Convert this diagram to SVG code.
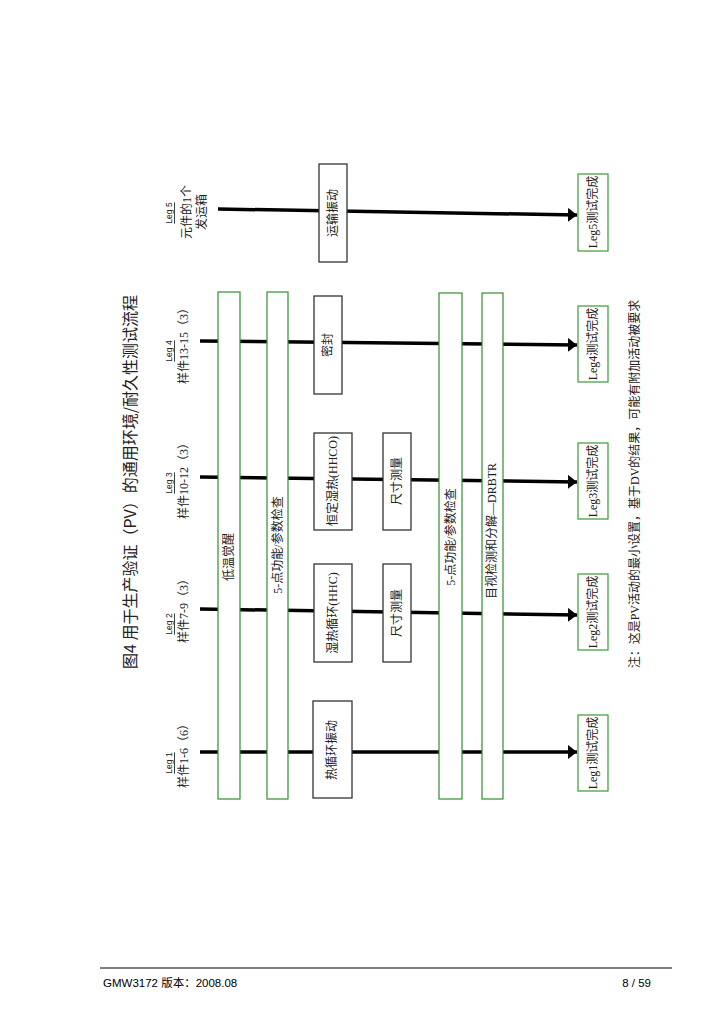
<svg xmlns="http://www.w3.org/2000/svg" width="724" height="1024" viewBox="0 0 724 1024">
<style>
.t{font-family:"Liberation Serif","Noto Sans CJK SC",serif;font-size:12px;fill:#222;text-anchor:middle;dominant-baseline:central}
.title{font-family:"Noto Sans CJK SC",serif;font-size:16px;fill:#222;text-anchor:middle;dominant-baseline:central}
.leg{font-family:"Liberation Sans",sans-serif;font-size:8.5px;fill:#222;text-anchor:middle;dominant-baseline:central;text-decoration:underline}
.bar{fill:#fff;stroke:#2f8f2f;stroke-width:1.2}
.box{fill:#fff;stroke:#333;stroke-width:1.3}
.end{fill:#fff;stroke:#3a9a3a;stroke-width:1.2}
.flow{stroke:#000;stroke-width:3.5;fill:none}
.foot{font-family:"Liberation Sans","Noto Sans CJK SC",sans-serif;font-size:11.5px;fill:#000}
</style>
<defs>
<marker id="arr" markerUnits="userSpaceOnUse" markerWidth="10" markerHeight="14" refX="9" refY="7" orient="auto">
<path d="M0,0 L9,7 L0,14 z" fill="#000"/>
</marker>
</defs>
<rect width="724" height="1024" fill="#fff"/>

<g id="title">
<text class="title" transform="translate(129,482) rotate(-90)">图4 用于生产验证（PV）的通用环境/耐久性测试流程</text>
</g>

<g id="connectors">
<line class="flow" x1="200" y1="752" x2="577" y2="752" marker-end="url(#arr)"/>
<line class="flow" x1="200" y1="609" x2="577" y2="615" marker-end="url(#arr)"/>
<line class="flow" x1="200" y1="477" x2="577" y2="482" marker-end="url(#arr)"/>
<line class="flow" x1="200" y1="341" x2="577" y2="345" marker-end="url(#arr)"/>
<line class="flow" x1="218" y1="209" x2="577" y2="215" marker-end="url(#arr)"/>
</g>

<g id="leg1-label">
<text class="leg" transform="translate(169,763) rotate(-90)">Leg 1</text>
<text class="t" transform="translate(184,753) rotate(-90)">样件1-6（6）</text>
</g>
<g id="leg2-label">
<text class="leg" transform="translate(169,624) rotate(-90)">Leg 2</text>
<text class="t" transform="translate(184,608) rotate(-90)">样件7-9（3）</text>
</g>
<g id="leg3-label">
<text class="leg" transform="translate(169,483) rotate(-90)">Leg 3</text>
<text class="t" transform="translate(184,478) rotate(-90)">样件10-12（3）</text>
</g>
<g id="leg4-label">
<text class="leg" transform="translate(169,351) rotate(-90)">Leg 4</text>
<text class="t" transform="translate(184,343) rotate(-90)">样件13-15（3）</text>
</g>
<g id="leg5-label">
<text class="leg" transform="translate(169,213) rotate(-90)">Leg 5</text>
<text class="t" transform="translate(187,212) rotate(-90)">元件的1个</text>
<text class="t" transform="translate(202,212) rotate(-90)">发运箱</text>
</g>

<g id="bar-cold-wakeup">
<rect class="bar" x="218" y="292" width="22" height="507"/>
<text class="t" transform="translate(229,557) rotate(-90)">低温觉醒</text>
</g>
<g id="bar-5pt-check-1">
<rect class="bar" x="267" y="292" width="21" height="507"/>
<text class="t" transform="translate(278,545) rotate(-90)">5-点功能/参数检查</text>
</g>
<g id="bar-5pt-check-2">
<rect class="bar" x="439" y="293" width="23" height="506"/>
<text class="t" transform="translate(451,537) rotate(-90)">5-点功能/参数检查</text>
</g>
<g id="bar-drbtr">
<rect class="bar" x="482" y="293" width="21" height="506"/>
<text class="t" transform="translate(492,531) rotate(-90)">目视检测和分解—DRBTR</text>
</g>

<g id="box-transport-vib">
<rect class="box" x="319" y="164" width="28" height="98"/>
<text class="t" transform="translate(333,213) rotate(-90)">运输振动</text>
</g>
<g id="box-seal">
<rect class="box" x="314" y="296" width="28" height="98"/>
<text class="t" transform="translate(328,345) rotate(-90)">密封</text>
</g>
<g id="box-hhco">
<rect class="box" x="314" y="433" width="38" height="97"/>
<text class="t" transform="translate(333,481) rotate(-90)">恒定湿热(HHCO)</text>
</g>
<g id="box-dim-3">
<rect class="box" x="383" y="433" width="28" height="97"/>
<text class="t" transform="translate(397,481) rotate(-90)">尺寸测量</text>
</g>
<g id="box-hhc">
<rect class="box" x="314" y="564" width="38" height="98"/>
<text class="t" transform="translate(333,613) rotate(-90)">湿热循环(HHC)</text>
</g>
<g id="box-dim-2">
<rect class="box" x="383" y="564" width="28" height="98"/>
<text class="t" transform="translate(397,613) rotate(-90)">尺寸测量</text>
</g>
<g id="box-thermal-vib">
<rect class="box" x="313" y="701" width="39" height="97"/>
<text class="t" transform="translate(332,750) rotate(-90)">热循环振动</text>
</g>

<g id="end-leg5">
<rect class="end" x="578" y="174" width="30" height="77"/>
<text class="t" transform="translate(593,212) rotate(-90)">Leg5测试完成</text>
</g>
<g id="end-leg4">
<rect class="end" x="578" y="306" width="30" height="76"/>
<text class="t" transform="translate(593,344) rotate(-90)">Leg4测试完成</text>
</g>
<g id="end-leg3">
<rect class="end" x="578" y="443" width="30" height="76"/>
<text class="t" transform="translate(593,481) rotate(-90)">Leg3测试完成</text>
</g>
<g id="end-leg2">
<rect class="end" x="578" y="574" width="30" height="76"/>
<text class="t" transform="translate(593,612) rotate(-90)">Leg2测试完成</text>
</g>
<g id="end-leg1">
<rect class="end" x="578" y="715" width="30" height="76"/>
<text class="t" transform="translate(593,753) rotate(-90)">Leg1测试完成</text>
</g>

<g id="note">
<text class="t" transform="translate(635,484) rotate(-90)">注：这是PV活动的最小设置，基于DV的结果，可能有附加活动被要求</text>
</g>

<g id="footer">
<line x1="100" y1="968" x2="672" y2="968" stroke="#000" stroke-width="1"/>
<text class="foot" x="103" y="987">GMW3172 版本：2008.08</text>
<text class="foot" x="651" y="987" text-anchor="end">8 / 59</text>
</g>
</svg>
